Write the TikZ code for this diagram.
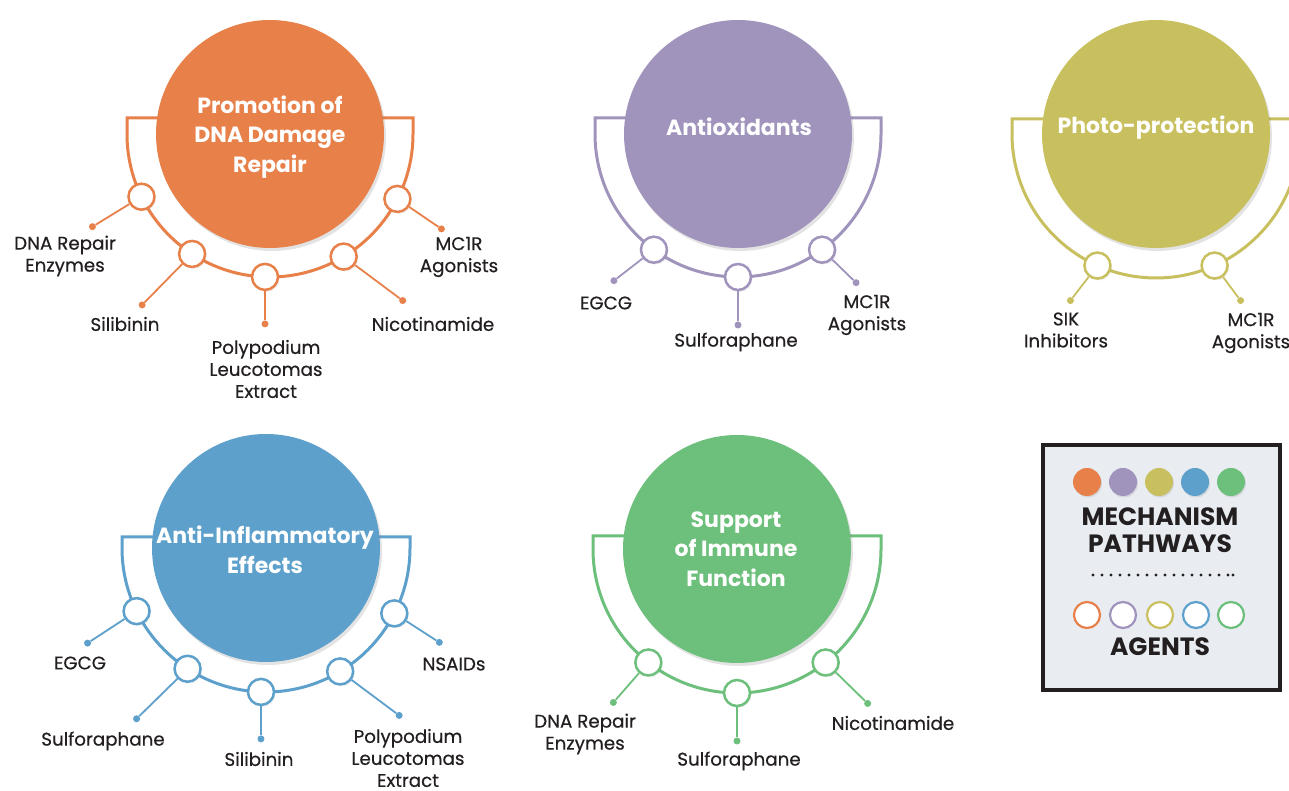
\documentclass[tikz,border=0pt]{standalone}
\usepackage{fontspec}
\setmainfont{Poppins}
\newfontfamily\namefam[FakeBold=0.5]{Poppins}
\usetikzlibrary{shadows}

\definecolor{dnaC}{HTML}{E8804A}
\definecolor{oxiC}{HTML}{A093BC}
\definecolor{photoC}{HTML}{C8BF5E}
\definecolor{inflC}{HTML}{5DA0CC}
\definecolor{immC}{HTML}{6DBF7C}
\definecolor{inkC}{HTML}{231F20}
\definecolor{legendC}{HTML}{E9EDF2}

\newcommand{\titlefont}{\bfseries\fontsize{22}{29.5}\selectfont}
\newcommand{\namefont}{\namefam\fontsize{18.3}{22}\selectfont}
\newcommand{\legendfont}{\bfseries\fontsize{25}{27}\selectfont}

\tikzset{
  pathway/.style={circle, minimum size=228pt, inner sep=0pt, fill=#1,
    drop shadow={shadow xshift=2pt, shadow yshift=-3pt, opacity=.22}},
  titletext/.style={text=white, font=\titlefont, align=center, inner sep=0pt},
  bracketline/.style={draw=#1, line width=3pt},
  agent/.style={circle, minimum size=26pt, inner sep=0pt, draw=#1, line width=2.5pt,
    fill=white, drop shadow={shadow xshift=1.5pt, shadow yshift=-2pt, opacity=.12}},
  enddot/.style={circle, minimum size=7pt, inner sep=0pt, fill=#1},
  spoke/.style={draw=#1, line width=1.8pt},
  agentname/.style={text=inkC, font=\namefont, align=center, inner sep=0pt},
  keydot/.style={circle, minimum size=28pt, inner sep=0pt, fill=#1,
    drop shadow={shadow xshift=1pt, shadow yshift=-1.5pt, opacity=.2}},
  keyring/.style={circle, minimum size=26pt, inner sep=0pt, draw=#1, line width=2.2pt, fill=white},
}

\begin{document}
\begin{tikzpicture}[x=1pt, y=1pt]
\useasboundingbox (0,0) rectangle (1289,791);

% Promotion of DNA Damage Repair
\draw[bracketline=dnaC] (270,673) -- (127,673) -- (127,657)
  arc[start angle=180, end angle=360, radius=143] -- (413,673) -- (270,673);
\node[pathway=dnaC] (dna) at (270,657) {};
\node[titletext] (dnaT) at (270,654) {Promotion of\\DNA Damage\\Repair};
\node[agent=dnaC] (dnaA1) at ([shift={(206:143)}]dna.center) {};
\node[agent=dnaC] (dnaA2) at ([shift={(237:143)}]dna.center) {};
\node[agent=dnaC] (dnaA3) at ([shift={(268:143)}]dna.center) {};
\node[agent=dnaC] (dnaA4) at ([shift={(301:143)}]dna.center) {};
\node[agent=dnaC] (dnaA5) at ([shift={(333:143)}]dna.center) {};
\node[enddot=dnaC] (dnaD1) at ([shift={(-49,-30)}]dnaA1.center) {};
\node[enddot=dnaC] (dnaD2) at ([shift={(-50,-51)}]dnaA2.center) {};
\node[enddot=dnaC] (dnaD3) at ([shift={(0,-47)}]dnaA3.center) {};
\node[enddot=dnaC] (dnaD4) at ([shift={(59,-44)}]dnaA4.center) {};
\node[enddot=dnaC] (dnaD5) at ([shift={(44,-30)}]dnaA5.center) {};
\draw[spoke=dnaC] (dnaA1) -- (dnaD1);
\draw[spoke=dnaC] (dnaA2) -- (dnaD2);
\draw[spoke=dnaC] (dnaA3) -- (dnaD3);
\draw[spoke=dnaC] (dnaA4) -- (dnaD4);
\draw[spoke=dnaC] (dnaA5) -- (dnaD5);
\node[agentname] (dnaL1) at (65,535) {DNA Repair\\Enzymes};
\node[agentname] (dnaL2) at (125,467) {Silibinin};
\node[agentname] (dnaL3) at (266,422) {Polypodium\\Leucotomas\\Extract};
\node[agentname] (dnaL4) at (433,467) {Nicotinamide};
\node[agentname] (dnaL5) at (459,534) {MC1R\\Agonists};

% Antioxidants
\draw[bracketline=oxiC] (738,673) -- (595,673) -- (595,657)
  arc[start angle=180, end angle=360, radius=143] -- (881,673) -- (738,673);
\node[pathway=oxiC] (oxi) at (738,657) {};
\node[titletext] (oxiT) at (739,664) {Antioxidants};
\node[agent=oxiC] (oxiA1) at ([shift={(234:143)}]oxi.center) {};
\node[agent=oxiC] (oxiA2) at ([shift={(270:143)}]oxi.center) {};
\node[agent=oxiC] (oxiA3) at ([shift={(306:143)}]oxi.center) {};
\node[enddot=oxiC] (oxiD1) at ([shift={(-40,-31)}]oxiA1.center) {};
\node[enddot=oxiC] (oxiD2) at ([shift={(0,-48)}]oxiA2.center) {};
\node[enddot=oxiC] (oxiD3) at ([shift={(34,-33)}]oxiA3.center) {};
\draw[spoke=oxiC] (oxiA1) -- (oxiD1);
\draw[spoke=oxiC] (oxiA2) -- (oxiD2);
\draw[spoke=oxiC] (oxiA3) -- (oxiD3);
\node[agentname] (oxiL1) at (606,488) {EGCG};
\node[agentname] (oxiL2) at (736,449) {Sulforaphane};
\node[agentname] (oxiL3) at (867,476) {MC1R\\Agonists};

% Photo-protection
\draw[bracketline=photoC] (1156,672) -- (1012,672) -- (1012,657)
  arc[start angle=180, end angle=360, radius=144] -- (1300,672) -- (1156,672);
\node[pathway=photoC] (photo) at (1156,657) {};
\node[titletext] (photoT) at (1156,663) {Photo-protection};
\node[agent=photoC] (photoA1) at ([shift={(246:144)}]photo.center) {};
\node[agent=photoC] (photoA2) at ([shift={(294:144)}]photo.center) {};
\node[enddot=photoC] (photoD1) at ([shift={(-27,-35)}]photoA1.center) {};
\node[enddot=photoC] (photoD2) at ([shift={(26,-35)}]photoA2.center) {};
\draw[spoke=photoC] (photoA1) -- (photoD1);
\draw[spoke=photoC] (photoA2) -- (photoD2);
\node[agentname] (photoL1) at (1066,461) {SIK\\Inhibitors};
\node[agentname] (photoL2) at (1251,458) {MC1R\\Agonists};

% Anti-Inflammatory Effects
\draw[bracketline=inflC] (266,254) -- (122,254) -- (122,243)
  arc[start angle=180, end angle=360, radius=144] -- (410,254) -- (266,254);
\node[pathway=inflC] (infl) at (266,243) {};
\node[titletext] (inflT) at (265,241) {Anti-Inflammatory\\Effects};
\node[agent=inflC] (inflA1) at ([shift={(206:144)}]infl.center) {};
\node[agent=inflC] (inflA2) at ([shift={(237:144)}]infl.center) {};
\node[agent=inflC] (inflA3) at ([shift={(268:144)}]infl.center) {};
\node[agent=inflC] (inflA4) at ([shift={(301:144)}]infl.center) {};
\node[agent=inflC] (inflA5) at ([shift={(333:144)}]infl.center) {};
\node[enddot=inflC] (inflD1) at ([shift={(-49,-32)}]inflA1.center) {};
\node[enddot=inflC] (inflD2) at ([shift={(-51,-50)}]inflA2.center) {};
\node[enddot=inflC] (inflD3) at ([shift={(0,-47)}]inflA3.center) {};
\node[enddot=inflC] (inflD4) at ([shift={(59,-44)}]inflA4.center) {};
\node[enddot=inflC] (inflD5) at ([shift={(45,-29)}]inflA5.center) {};
\draw[spoke=inflC] (inflA1) -- (inflD1);
\draw[spoke=inflC] (inflA2) -- (inflD2);
\draw[spoke=inflC] (inflA3) -- (inflD3);
\draw[spoke=inflC] (inflA4) -- (inflD4);
\draw[spoke=inflC] (inflA5) -- (inflD5);
\node[agentname] (inflL1) at (80,128) {EGCG};
\node[agentname] (inflL2) at (103,50) {Sulforaphane};
\node[agentname] (inflL3) at (259,32) {Silibinin};
\node[agentname] (inflL4) at (408,33) {Polypodium\\Leucotomas\\Extract};
\node[agentname] (inflL5) at (454,127) {NSAIDs};

% Support of Immune Function
\draw[bracketline=immC] (737,255) -- (593,255) -- (593,242)
  arc[start angle=180, end angle=360, radius=144] -- (881,255) -- (737,255);
\node[pathway=immC] (imm) at (737,242) {};
\node[titletext] (immT) at (736,242) {Support\\of Immune\\Function};
\node[agent=immC] (immA1) at ([shift={(232:144)}]imm.center) {};
\node[agent=immC] (immA2) at ([shift={(270:144)}]imm.center) {};
\node[agent=immC] (immA3) at ([shift={(308:144)}]imm.center) {};
\node[enddot=immC] (immD1) at ([shift={(-35,-40)}]immA1.center) {};
\node[enddot=immC] (immD2) at ([shift={(0,-48)}]immA2.center) {};
\node[enddot=immC] (immD3) at ([shift={(42,-41)}]immA3.center) {};
\draw[spoke=immC] (immA1) -- (immD1);
\draw[spoke=immC] (immA2) -- (immD2);
\draw[spoke=immC] (immA3) -- (immD3);
\node[agentname] (immL1) at (585,57) {DNA Repair\\Enzymes};
\node[agentname] (immL2) at (739,30) {Sulforaphane};
\node[agentname] (immL3) at (893,68) {Nicotinamide};

% legend
\node[draw=inkC, line width=4pt, fill=legendC, minimum width=237pt, minimum height=245pt,
  inner sep=0pt] (key) at (1161.5,223.5) {};
\node[keydot=dnaC] (keyP1) at (1087,309) {};
\node[keydot=oxiC] (keyP2) at (1123,309) {};
\node[keydot=photoC] (keyP3) at (1159,309) {};
\node[keydot=inflC] (keyP4) at (1195,309) {};
\node[keydot=immC] (keyP5) at (1231,309) {};
\node[text=inkC, font=\legendfont, align=center, inner sep=0pt] (keyT1) at (1160,260.5) {MECHANISM\\PATHWAYS};
\coordinate (dotL) at (1093,216);
\coordinate (dotR) at (1233,216);
\draw[inkC, line width=3.4pt, line cap=round, dash pattern=on 0pt off 9pt] (dotL) -- (dotR);
\fill[inkC] (dotR) circle (1.7);
\node[keyring=dnaC] (keyA1) at (1087,176) {};
\node[keyring=oxiC] (keyA2) at (1123,176) {};
\node[keyring=photoC] (keyA3) at (1160,176) {};
\node[keyring=inflC] (keyA4) at (1196,176) {};
\node[keyring=immC] (keyA5) at (1231,176) {};
\node[text=inkC, font=\legendfont, inner sep=0pt] (keyT2) at (1160,144) {AGENTS};

\end{tikzpicture}
\end{document}
